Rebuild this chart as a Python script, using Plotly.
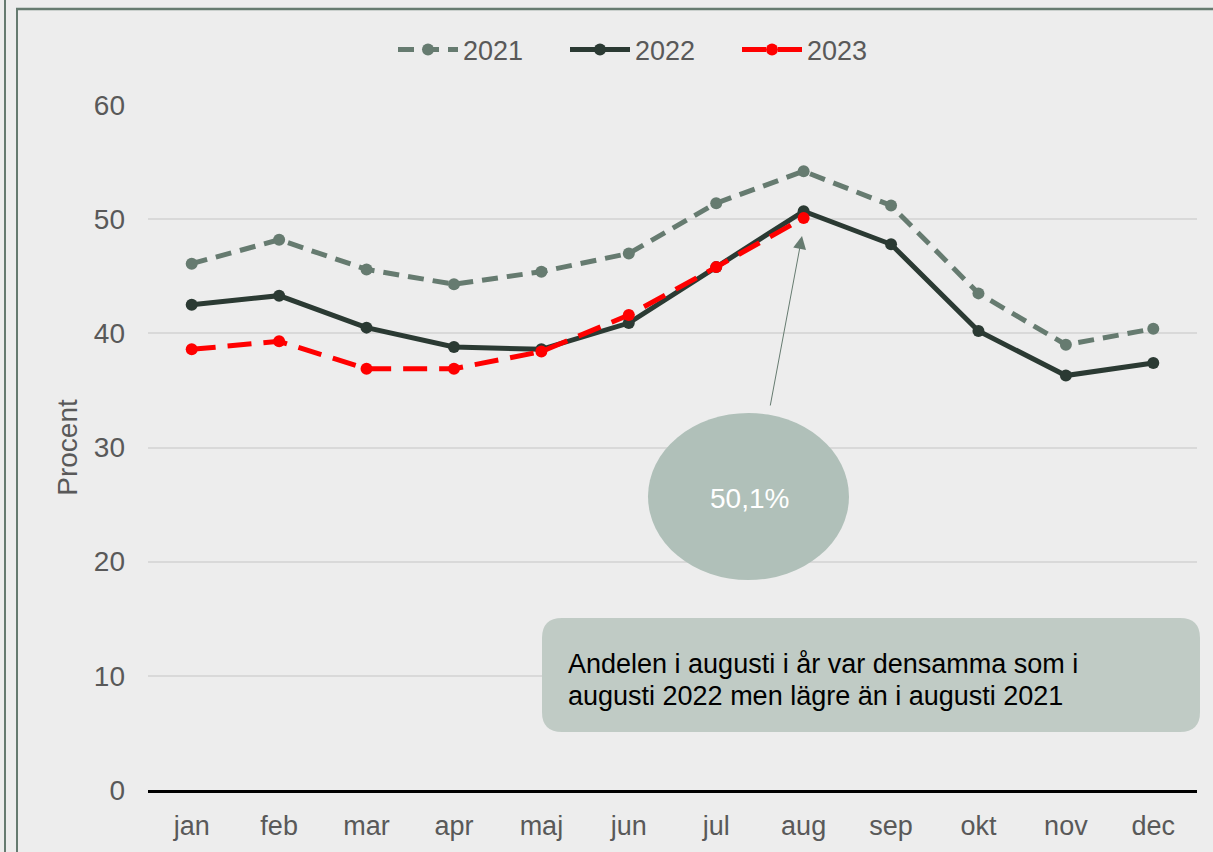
import plotly.graph_objects as go

months = ["jan", "feb", "mar", "apr", "maj", "jun", "jul", "aug", "sep", "okt", "nov", "dec"]
y2021 = [46.1, 48.2, 45.6, 44.3, 45.4, 47.0, 51.4, 54.2, 51.2, 43.5, 39.0, 40.4]
y2022 = [42.5, 43.3, 40.5, 38.8, 38.6, 40.9, 45.8, 50.7, 47.8, 40.2, 36.3, 37.4]
months2023 = months[:8]
y2023 = [38.6, 39.3, 36.9, 36.9, 38.4, 41.6, 45.8, 50.1]
y_ticks = [0, 10, 20, 30, 40, 50, 60]
bubble_text = "50,1%"
box_line1 = "Andelen i augusti i år var densamma som i"
box_line2 = "augusti 2022 men lägre än i augusti 2021"

FONT = "Liberation Sans, Arial, sans-serif"
GREY = "#595959"
BG = "#EDEDED"

fig = go.Figure()
fig.add_trace(go.Scatter(x=months, y=y2021, name="2021", mode="lines+markers",
                         line=dict(color="#667B70", width=5, dash="16px,9px"),
                         marker=dict(size=12, color="#667B70")))
fig.add_trace(go.Scatter(x=months, y=y2022, name="2022", mode="lines+markers",
                         line=dict(color="#2B3A33", width=5),
                         marker=dict(size=12, color="#2B3A33")))
fig.add_trace(go.Scatter(x=months2023, y=y2023, name="2023", mode="lines+markers",
                         line=dict(color="#FF0000", width=5, dash="24px,12px"),
                         marker=dict(size=12, color="#FF0000")))

W, H = 1213, 852
L, R, T, B = 148, 1197, 105, 790


def px(xp):
    return (xp - L) / (R - L)


def py(yp):
    return (B - yp) / (B - T)


shapes = []
# ellipse bubble
shapes.append(dict(type="circle", xref="paper", yref="paper",
                   x0=px(648), x1=px(849), y0=py(580), y1=py(413),
                   fillcolor="#B0C0B9", line=dict(width=0), layer="above"))
# rounded text box
x0, x1, y0, y1 = px(542), px(1200), py(732), py(618)
rx, ry = 20 / (R - L), 20 / (B - T)
path = (f"M {x0+rx},{y0} L {x1-rx},{y0} Q {x1},{y0} {x1},{y0+ry} "
        f"L {x1},{y1-ry} Q {x1},{y1} {x1-rx},{y1} L {x0+rx},{y1} "
        f"Q {x0},{y1} {x0},{y1-ry} L {x0},{y0+ry} Q {x0},{y0} {x0+rx},{y0} Z")
shapes.append(dict(type="path", xref="paper", yref="paper", path=path,
                   fillcolor="#C0CBC5", line=dict(width=0), layer="above"))
# frame lines
frame = "#667B70"
shapes.append(dict(type="line", xref="paper", yref="paper", x0=px(5), x1=px(5),
                   y0=py(-5), y1=py(860), line=dict(color=frame, width=2)))
shapes.append(dict(type="line", xref="paper", yref="paper", x0=px(17), x1=px(17),
                   y0=py(9), y1=py(860), line=dict(color=frame, width=2)))
shapes.append(dict(type="line", xref="paper", yref="paper", x0=px(16), x1=px(1220),
                   y0=py(9), y1=py(9), line=dict(color=frame, width=2.5)))

annotations = [
    dict(xref="paper", yref="paper", x=px(749), y=py(498), text=bubble_text,
         showarrow=False, font=dict(family=FONT, size=28, color="white")),
    dict(xref="paper", yref="paper", x=px(566), y=py(664), text=box_line1,
         showarrow=False, xanchor="left", yanchor="middle", align="left",
         font=dict(family=FONT, size=27, color="#000000")),
    dict(xref="paper", yref="paper", x=px(566), y=py(696), text=box_line2,
         showarrow=False, xanchor="left", yanchor="middle", align="left",
         font=dict(family=FONT, size=27, color="#000000")),
    dict(xref="paper", yref="paper", x=px(802), y=py(236), text="",
         showarrow=True, ax=770 - 802, ay=407 - 236, arrowhead=2, arrowsize=2.6,
         arrowwidth=1, arrowcolor="#667B70"),
]

fig.update_layout(
    width=W, height=H,
    margin=dict(l=L, r=W - R, t=T, b=H - B, pad=0),
    paper_bgcolor=BG, plot_bgcolor=BG,
    font=dict(family=FONT, size=27, color=GREY),
    showlegend=True,
    legend=dict(orientation="h", x=px(651), xanchor="center", y=py(50), yanchor="middle",
                bgcolor="rgba(0,0,0,0)", font=dict(family=FONT, size=27, color=GREY),
                itemwidth=60, entrywidth=97, entrywidthmode="pixels", tracegroupgap=0),
    shapes=shapes,
    annotations=annotations,
    xaxis=dict(type="category", range=[-0.5, 11.5], showgrid=False, showline=True,
               linecolor="#000000", linewidth=2.5, ticks="", tickfont=dict(size=27, color=GREY),
               ticklabelstandoff=10, fixedrange=True),
    yaxis=dict(range=[0, 60], tickvals=y_ticks, showgrid=True, gridcolor="#D9D9D9",
               gridwidth=2, zeroline=False, showline=False, ticks="",
               tickfont=dict(size=28, color=GREY), ticklabelstandoff=22,
               title=dict(text="Procent", font=dict(size=28, color=GREY), standoff=8),
               fixedrange=True),
)

fig.write_html("out.html", config={"displayModeBar": False},
               post_script="document.body.style.margin='0px';")
